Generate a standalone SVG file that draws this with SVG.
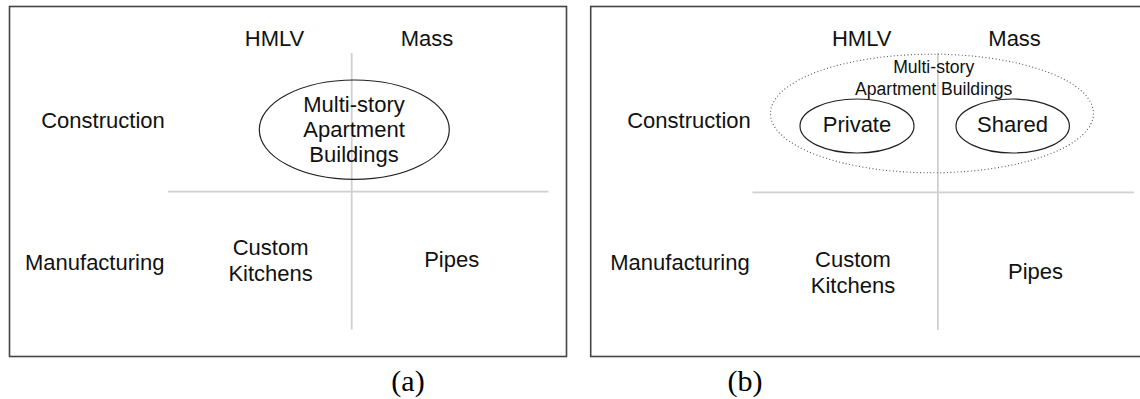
<svg xmlns="http://www.w3.org/2000/svg" width="1140" height="399" viewBox="0 0 1140 399">
<style>
text{font-family:"Liberation Sans",Arial,sans-serif;font-size:22px;fill:#111;text-anchor:middle}
.sm{font-size:17.6px}
.cap{font-family:"Liberation Serif","Times New Roman",serif;font-size:30px;fill:#000}
.frame{fill:none;stroke:#444;stroke-width:1.6}
.axis{stroke:#d0d0d0;stroke-width:1.8;fill:none}
.ell{fill:none;stroke:#222;stroke-width:1.2}
.dot{fill:none;stroke:#555;stroke-width:1.1;stroke-dasharray:1 2.4}
</style>
<rect width="1140" height="399" fill="#fff"/>
<g id="panel-a">
<rect class="frame" x="9.5" y="6.5" width="557" height="350"/>
<g id="axes-a" class="axis"><line x1="351.7" y1="53" x2="351.7" y2="329.5"/><line x1="168" y1="191.7" x2="548.5" y2="191.7"/></g>
<g id="a-hmlv"><text x="274.5" y="46">HMLV</text></g>
<g id="a-mass"><text x="427" y="46">Mass</text></g>
<g id="a-construction"><text x="103" y="128">Construction</text></g>
<g id="a-manufacturing"><text x="94.7" y="270">Manufacturing</text></g>
<g id="a-apartments"><ellipse class="ell" cx="354.3" cy="129.7" rx="95" ry="49.7"/><text x="354" y="111.5">Multi-story</text><text x="354" y="136.5">Apartment</text><text x="354" y="161.5">Buildings</text></g>
<g id="a-kitchens"><text x="270.6" y="254.5">Custom</text><text x="270.6" y="280.5">Kitchens</text></g>
<g id="a-pipes"><text x="451.7" y="267">Pipes</text></g>
<text class="cap" x="408" y="391">(a)</text>
</g>
<g id="panel-b">
<rect class="frame" x="590.7" y="6.5" width="557" height="350"/>
<g id="axes-b" class="axis"><line x1="937.9" y1="53" x2="937.9" y2="330"/><line x1="752.5" y1="192.3" x2="1134" y2="192.3"/></g>
<g id="b-hmlv"><text x="861.7" y="46">HMLV</text></g>
<g id="b-mass"><text x="1014.6" y="46">Mass</text></g>
<g id="b-construction"><text x="689" y="128">Construction</text></g>
<g id="b-manufacturing"><text x="680" y="270">Manufacturing</text></g>
<g id="b-apartments"><ellipse class="dot" cx="932" cy="113.5" rx="161.5" ry="59.3"/><text class="sm" x="933.7" y="73.3">Multi-story</text><text class="sm" x="933.7" y="95">Apartment Buildings</text></g>
<g id="b-private"><ellipse class="ell" cx="857" cy="126" rx="57" ry="27"/><text x="857" y="132">Private</text></g>
<g id="b-shared"><ellipse class="ell" cx="1012.7" cy="126" rx="56.7" ry="27"/><text x="1012.5" y="132">Shared</text></g>
<g id="b-kitchens"><text x="853" y="266.7">Custom</text><text x="853" y="292.7">Kitchens</text></g>
<g id="b-pipes"><text x="1035.5" y="279.3">Pipes</text></g>
<text class="cap" x="745" y="391">(b)</text>
</g>
</svg>
